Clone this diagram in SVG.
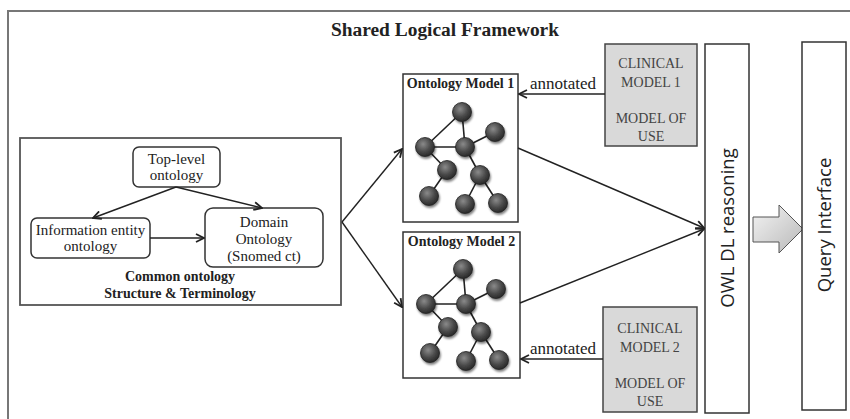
<svg xmlns="http://www.w3.org/2000/svg" width="850" height="419" viewBox="0 0 850 419">
<defs>
  <style>
    .serif{font-family:"Liberation Serif","Times New Roman",serif;fill:#222}
    .bold{font-weight:bold}
    .sans{font-family:"Open Sans","DejaVu Sans",sans-serif;fill:#222}
    .box{fill:#fff;stroke:#333;stroke-width:1.5}
    .clin{fill:#d9d9d9;stroke:#444;stroke-width:1.5}
    .clintext{font-family:"Liberation Serif","Times New Roman",serif;font-size:14px;fill:#444;text-anchor:middle}
    .conn{stroke:#222;stroke-width:1.4;fill:none;marker-end:url(#arr)}
    .edge{stroke:#222;stroke-width:1.6}
    .node{fill:url(#ball);stroke:#222;stroke-width:0.8;filter:url(#sh)}
  </style>
  <marker id="arr" viewBox="0 0 10 10" refX="9" refY="5" markerWidth="10" markerHeight="10" markerUnits="userSpaceOnUse" orient="auto">
    <path d="M1,1 L9,5 L1,9" fill="none" stroke="#222" stroke-width="1.8"/>
  </marker>
  <radialGradient id="ball" cx="0.4" cy="0.35" r="0.65">
    <stop offset="0" stop-color="#8a8a8a"/>
    <stop offset="0.6" stop-color="#4a4a4a"/>
    <stop offset="1" stop-color="#2a2a2a"/>
  </radialGradient>
  <linearGradient id="garr" x1="0" y1="0" x2="1" y2="1">
    <stop offset="0" stop-color="#f4f4f4"/>
    <stop offset="1" stop-color="#b8b8b8"/>
  </linearGradient>
  <filter id="sh" x="-50%" y="-50%" width="200%" height="200%">
    <feGaussianBlur in="SourceAlpha" stdDeviation="1.2"/>
    <feOffset dx="0.5" dy="1.5" result="b"/>
    <feComponentTransfer><feFuncA type="linear" slope="0.5"/></feComponentTransfer>
    <feMerge><feMergeNode/><feMergeNode in="SourceGraphic"/></feMerge>
  </filter>
  <g id="graph">
    <line class="edge" x1="462" y1="112" x2="425" y2="147"/>
    <line class="edge" x1="462" y1="112" x2="465" y2="147"/>
    <line class="edge" x1="425" y1="147" x2="465" y2="147"/>
    <line class="edge" x1="465" y1="147" x2="495" y2="132"/>
    <line class="edge" x1="425" y1="147" x2="447" y2="170"/>
    <line class="edge" x1="465" y1="147" x2="480" y2="175"/>
    <line class="edge" x1="447" y1="170" x2="429" y2="196"/>
    <line class="edge" x1="480" y1="175" x2="465" y2="204"/>
    <line class="edge" x1="480" y1="175" x2="498" y2="203"/>
    <circle class="node" cx="462" cy="112" r="9.5"/>
    <circle class="node" cx="425" cy="147" r="9.5"/>
    <circle class="node" cx="465" cy="147" r="9.5"/>
    <circle class="node" cx="495" cy="132" r="9.5"/>
    <circle class="node" cx="447" cy="170" r="9.5"/>
    <circle class="node" cx="480" cy="175" r="9.5"/>
    <circle class="node" cx="429" cy="196" r="9.5"/>
    <circle class="node" cx="465" cy="204" r="9.5"/>
    <circle class="node" cx="498" cy="203" r="9.5"/>
  </g>
</defs>

<g id="frame">
  <path d="M8,425 L8,11 L856,11" fill="none" stroke="#777" stroke-width="2"/>
  <text class="serif bold" x="445" y="36" font-size="18" text-anchor="middle" textLength="228" lengthAdjust="spacingAndGlyphs">Shared Logical Framework</text>
</g>

<g id="common">
  <rect x="20" y="138" width="321" height="167" fill="#fff" stroke="#555" stroke-width="1.8"/>
  <text class="serif bold" x="180" y="281" font-size="14" text-anchor="middle">Common ontology</text>
  <text class="serif bold" x="180" y="298" font-size="14" text-anchor="middle">Structure &amp; Terminology</text>
</g>

<g id="toplevel">
  <rect class="box" x="133" y="147" width="87" height="40" rx="6"/>
  <text class="serif" x="176.5" y="164" font-size="15" text-anchor="middle">Top-level</text>
  <text class="serif" x="176.5" y="180" font-size="15" text-anchor="middle">ontology</text>
</g>

<g id="infoentity">
  <rect class="box" x="31" y="218" width="119" height="40" rx="6"/>
  <text class="serif" x="90.5" y="235" font-size="15" text-anchor="middle">Information entity</text>
  <text class="serif" x="90.5" y="251" font-size="15" text-anchor="middle">ontology</text>
</g>

<g id="domain">
  <rect class="box" x="205" y="208" width="118" height="59" rx="8"/>
  <text class="serif" x="264" y="227" font-size="15" text-anchor="middle">Domain</text>
  <text class="serif" x="264" y="244" font-size="15" text-anchor="middle">Ontology</text>
  <text class="serif" x="264" y="261" font-size="15" text-anchor="middle">(Snomed ct)</text>
</g>

<g id="model1">
  <rect class="box" x="403" y="74" width="115" height="148"/>
  <text class="serif bold" x="460.5" y="88" font-size="14" text-anchor="middle">Ontology Model 1</text>
  <use href="#graph"/>
</g>

<g id="model2">
  <rect class="box" x="403" y="232" width="117" height="146"/>
  <text class="serif bold" x="461.5" y="246" font-size="14" text-anchor="middle">Ontology Model 2</text>
  <use href="#graph" transform="translate(1,157)"/>
</g>

<g id="clinical1">
  <rect class="clin" x="605" y="44" width="92" height="102"/>
  <text class="clintext" x="651" y="68">CLINICAL</text>
  <text class="clintext" x="651" y="87">MODEL 1</text>
  <text class="clintext" x="651" y="123">MODEL OF</text>
  <text class="clintext" x="651" y="141">USE</text>
</g>

<g id="clinical2">
  <rect class="clin" x="603" y="307" width="94" height="105"/>
  <text class="clintext" x="650" y="333">CLINICAL</text>
  <text class="clintext" x="650" y="352">MODEL 2</text>
  <text class="clintext" x="650" y="388">MODEL OF</text>
  <text class="clintext" x="650" y="406">USE</text>
</g>

<g id="owl">
  <rect class="box" x="705" y="44" width="44" height="369"/>
  <text class="sans" transform="translate(734,228) rotate(-90)" font-size="18.5" text-anchor="middle">OWL DL reasoning</text>
</g>

<g id="bigarrow">
  <path d="M753,217 L779,217 L779,205 L803,229 L779,253 L779,242 L753,242 Z" fill="url(#garr)" stroke="#555" stroke-width="1"/>
</g>

<g id="query">
  <rect class="box" x="802" y="42" width="44" height="368"/>
  <text class="sans" transform="translate(831,225) rotate(-90)" font-size="18.5" text-anchor="middle">Query Interface</text>
</g>

<g id="connectors">
  <line class="conn" x1="176" y1="187" x2="93" y2="218"/>
  <line class="conn" x1="176" y1="187" x2="262" y2="208"/>
  <line class="conn" x1="150" y1="238" x2="204" y2="238"/>
  <line class="conn" x1="342" y1="222" x2="402" y2="149"/>
  <line class="conn" x1="342" y1="222" x2="402" y2="307"/>
  <line class="conn" x1="518" y1="148" x2="704" y2="228"/>
  <line class="conn" x1="520" y1="303" x2="704" y2="229"/>
  <line class="conn" x1="605" y1="94" x2="519" y2="94"/>
  <line class="conn" x1="603" y1="359" x2="521" y2="359"/>
  <text class="serif" x="563" y="89" font-size="17" text-anchor="middle">annotated</text>
  <text class="serif" x="563" y="354" font-size="17" text-anchor="middle">annotated</text>
</g>
</svg>
